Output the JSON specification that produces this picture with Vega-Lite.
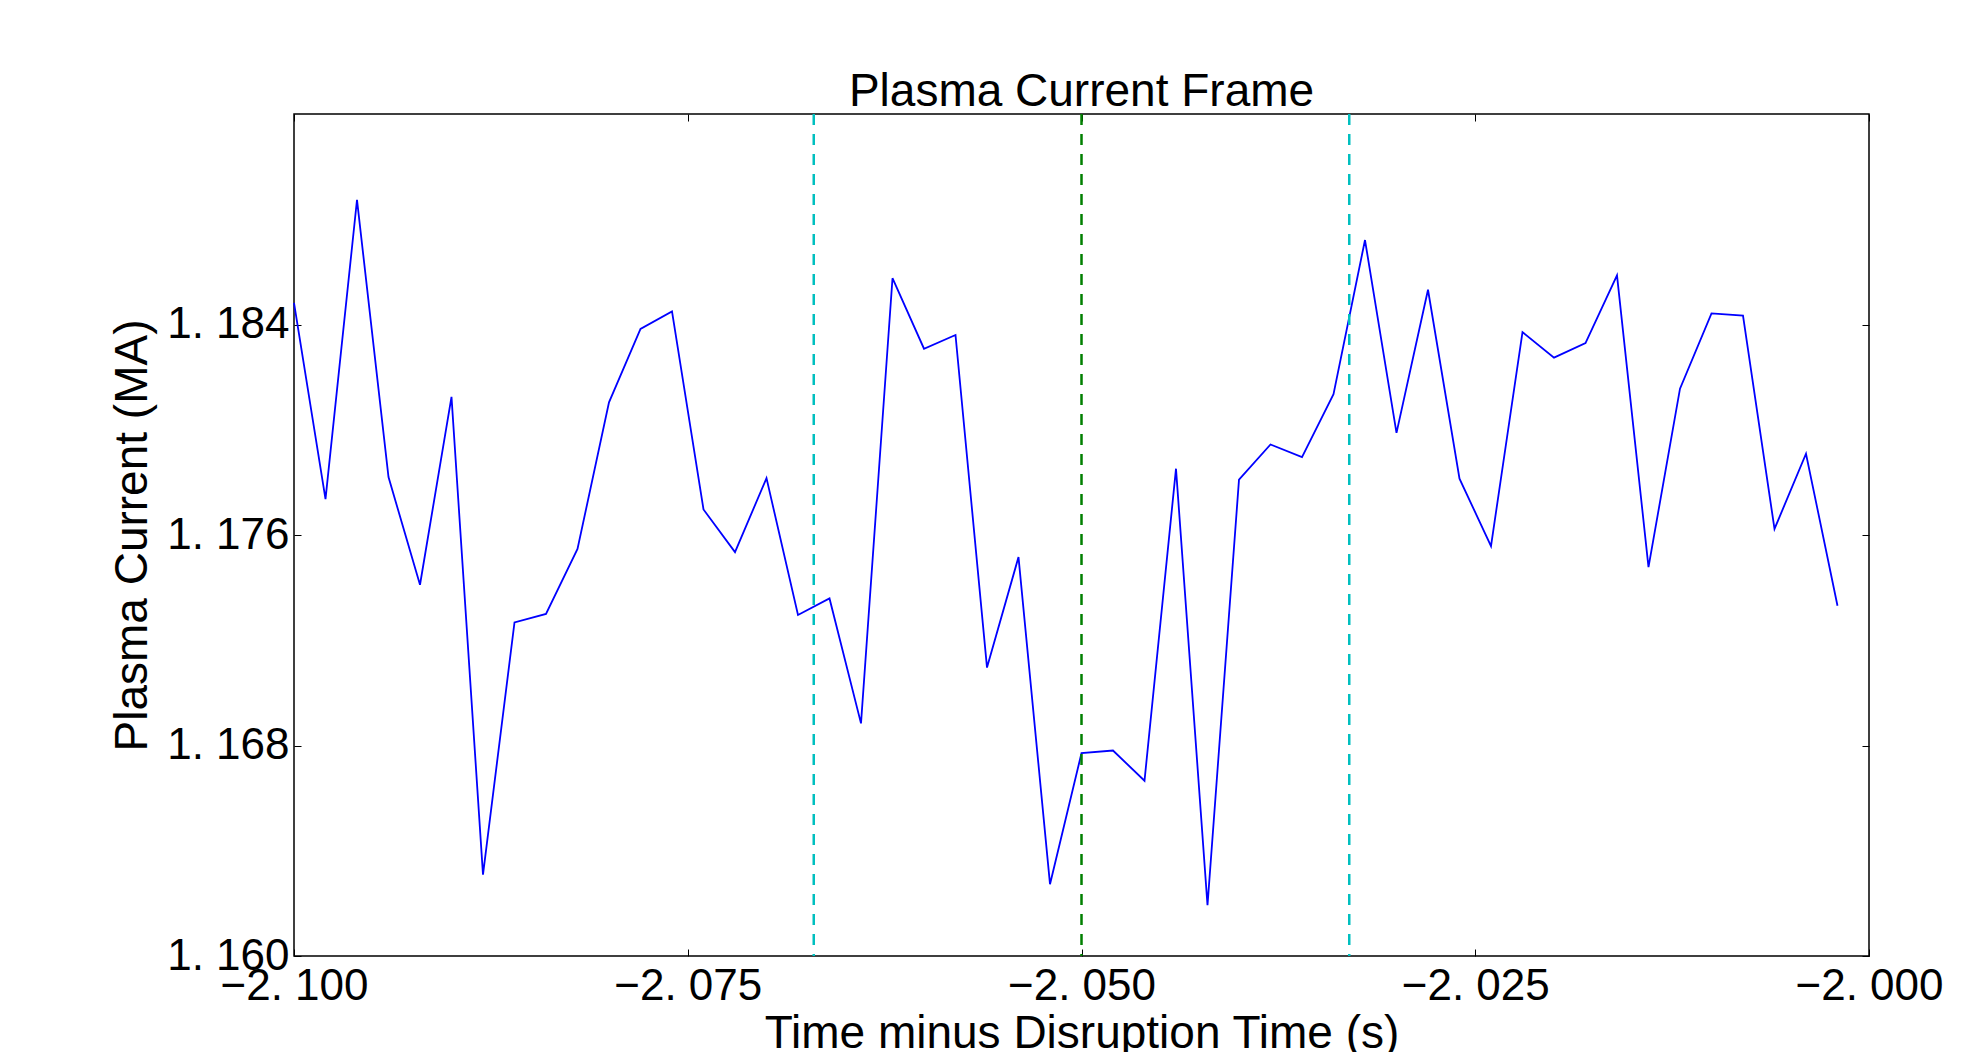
{
  "$schema": "https://vega.github.io/schema/vega-lite/v6.json",
  "width": 1575,
  "height": 842,
  "autosize": {"type": "none"},
  "padding": {"left": 294, "top": 114, "right": 113, "bottom": 96},
  "background": "white",
  "title": {"text": "Plasma Current Frame", "fontSize": 46, "font": "Liberation Sans", "fontWeight": "normal", "anchor": "middle", "frame": "group", "baseline": "alphabetic", "offset": -39, "color": "#000"},
  "datasets": {
    "current": [
      {"t": -2.100, "ip": 1.18482}, {"t": -2.098, "ip": 1.17736}, {"t": -2.096, "ip": 1.18874}, {"t": -2.094, "ip": 1.17820},
      {"t": -2.092, "ip": 1.17411}, {"t": -2.090, "ip": 1.18125}, {"t": -2.088, "ip": 1.16309}, {"t": -2.086, "ip": 1.17268},
      {"t": -2.084, "ip": 1.17300}, {"t": -2.082, "ip": 1.17547}, {"t": -2.080, "ip": 1.18104}, {"t": -2.078, "ip": 1.18383},
      {"t": -2.076, "ip": 1.18450}, {"t": -2.074, "ip": 1.17697}, {"t": -2.072, "ip": 1.17535}, {"t": -2.070, "ip": 1.17816},
      {"t": -2.068, "ip": 1.17296}, {"t": -2.066, "ip": 1.17359}, {"t": -2.064, "ip": 1.16884}, {"t": -2.062, "ip": 1.18576},
      {"t": -2.060, "ip": 1.18308}, {"t": -2.058, "ip": 1.18360}, {"t": -2.056, "ip": 1.17096}, {"t": -2.054, "ip": 1.17516},
      {"t": -2.052, "ip": 1.16273}, {"t": -2.050, "ip": 1.16771}, {"t": -2.048, "ip": 1.16781}, {"t": -2.046, "ip": 1.16666},
      {"t": -2.044, "ip": 1.17852}, {"t": -2.042, "ip": 1.16193}, {"t": -2.040, "ip": 1.17810}, {"t": -2.038, "ip": 1.17944},
      {"t": -2.036, "ip": 1.17896}, {"t": -2.034, "ip": 1.18135}, {"t": -2.032, "ip": 1.18721}, {"t": -2.030, "ip": 1.17988},
      {"t": -2.028, "ip": 1.18532}, {"t": -2.026, "ip": 1.17814}, {"t": -2.024, "ip": 1.17558}, {"t": -2.022, "ip": 1.18371},
      {"t": -2.020, "ip": 1.18274}, {"t": -2.018, "ip": 1.18329}, {"t": -2.016, "ip": 1.18587}, {"t": -2.014, "ip": 1.17478},
      {"t": -2.012, "ip": 1.18156}, {"t": -2.010, "ip": 1.18442}, {"t": -2.008, "ip": 1.18434}, {"t": -2.006, "ip": 1.17623},
      {"t": -2.004, "ip": 1.17909}, {"t": -2.002, "ip": 1.17331}
    ],
    "markers": [
      {"t": -2.067, "kind": "window"},
      {"t": -2.050, "kind": "disruption"},
      {"t": -2.033, "kind": "window"}
    ]
  },
  "layer": [
    {
      "data": {"name": "current"},
      "mark": {"type": "line", "color": "#0000ff", "strokeWidth": 1.8},
      "encoding": {
        "x": {"field": "t", "type": "quantitative",
          "scale": {"domain": [-2.1, -2.0], "nice": false, "zero": false},
          "axis": {"orient": "bottom", "values": [-2.1, -2.075, -2.05, -2.025, -2.0],
            "labelExpr": "replace(format(datum.value, '.3f'), '.', '. ')",
            "labelPadding": 15, "labelBaseline": "top", "labelAlign": "center",
            "title": "Time minus Disruption Time (s)", "titleBaseline": "alphabetic", "titleX": 787.5, "titleY": 91}},
        "y": {"field": "ip", "type": "quantitative",
          "scale": {"domain": [1.16, 1.192], "nice": false, "zero": false},
          "axis": {"orient": "left", "values": [1.16, 1.168, 1.176, 1.184],
            "labelExpr": "replace(format(datum.value, '.3f'), '.', '. ')",
            "labelPadding": 12, "labelBaseline": "middle", "labelAlign": "right",
            "title": "Plasma Current (MA)", "titleBaseline": "alphabetic", "titleAngle": 270, "titleX": -148, "titleY": 421}}
      }
    },
    {
      "data": {"name": "current"},
      "mark": {"type": "line", "strokeOpacity": 0},
      "encoding": {
        "x": {"field": "t", "type": "quantitative",
          "scale": {"domain": [-2.1, -2.0], "nice": false, "zero": false},
          "axis": {"orient": "top", "values": [-2.1, -2.075, -2.05, -2.025, -2.0], "labels": false, "title": null}},
        "y": {"field": "ip", "type": "quantitative",
          "scale": {"domain": [1.16, 1.192], "nice": false, "zero": false},
          "axis": {"orient": "right", "values": [1.16, 1.168, 1.176, 1.184], "labels": false, "title": null}}
      }
    },
    {
      "data": {"name": "markers"},
      "mark": {"type": "rule", "strokeWidth": 2.5, "strokeDash": [11, 9]},
      "encoding": {
        "x": {"field": "t", "type": "quantitative",
          "scale": {"domain": [-2.1, -2.0], "nice": false, "zero": false},
          "axis": null},
        "color": {"field": "kind", "type": "nominal",
          "scale": {"domain": ["window", "disruption"], "range": ["#00bfbf", "#008000"]}, "legend": null}
      }
    }
  ],
  "config": {
    "font": "Liberation Sans",
    "view": {"stroke": "#000", "strokeWidth": 1.5},
    "axis": {
      "domain": false, "grid": false,
      "tickColor": "#000", "tickSize": -7, "tickWidth": 1,
      "labelFont": "Liberation Sans", "labelFontSize": 44, "labelColor": "#000",
      "titleFont": "Liberation Sans", "titleFontSize": 46, "titleFontWeight": "normal", "titleColor": "#000",
      "labelOverlap": false, "labelFlush": false, "labelBound": false
    }
  }
}
